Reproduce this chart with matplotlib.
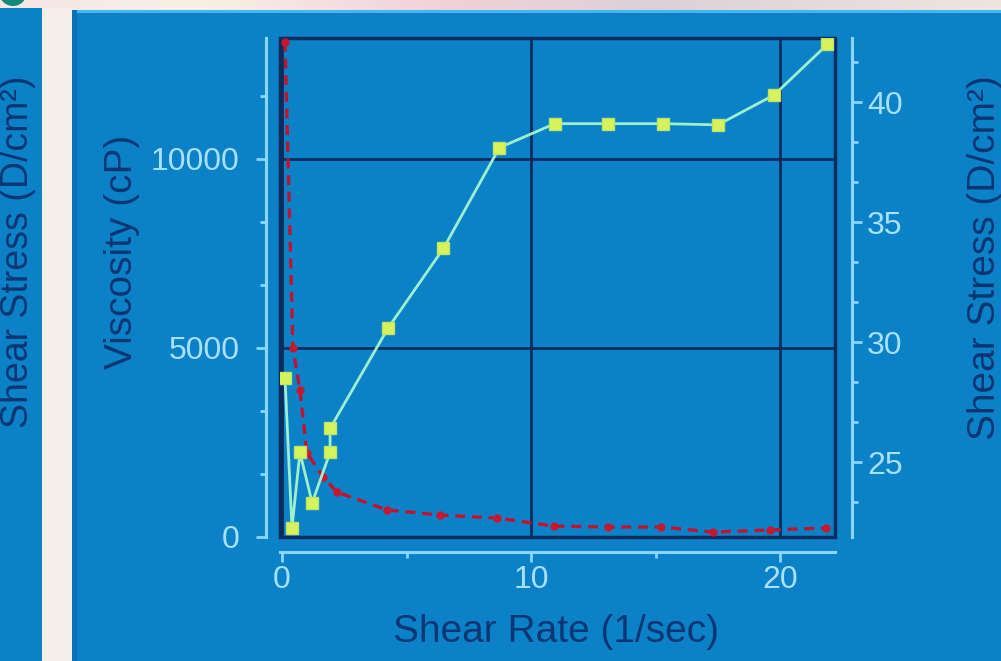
import numpy as np
import matplotlib
matplotlib.use('Agg')
import matplotlib.pyplot as plt
from matplotlib import font_manager
from matplotlib.patches import Rectangle, Circle
from matplotlib.ticker import MultipleLocator

# viscosity curve (red, left axis)
rate_visc = [0.12, 0.44, 0.72, 1.0, 1.65, 2.2, 4.23, 6.36, 8.65, 10.9, 13.08, 15.2, 17.3, 19.6, 21.85]
viscosity = [13100, 5000, 3890, 2220, 1590, 1190, 714, 580, 500, 290, 265, 265, 130, 185, 240]

# shear stress curve (green, right axis)
rate_stress = [0.12, 0.4, 0.72, 1.21, 1.93, 1.93, 4.27, 6.48, 8.73, 10.95, 13.08, 15.29, 17.5, 19.76, 21.89]
stress = [28.5, 22.25, 25.4, 23.3, 25.4, 26.4, 30.6, 33.9, 38.1, 39.1, 39.1, 39.1, 39.05, 40.3, 42.4]

W, H = 1001, 661
BLUE = '#0b82c8'
NAVY = '#0b2c5c'
AXBLUE = '#8ad6ff'
TICKTXT = '#a9e0fd'
LABEL = '#0d3672'

names = {f.name for f in font_manager.fontManager.ttflist}
if 'Liberation Sans Narrow' in names:
    tick_font, tick_size = 'Liberation Sans Narrow', 25
else:
    tick_font, tick_size = 'Liberation Sans', 23
plt.rcParams['font.family'] = ['Liberation Sans', 'DejaVu Sans']

fig = plt.figure(figsize=(W / 100, H / 100), dpi=100)

# slide background in pixel coordinates
bg = fig.add_axes([0, 0, 1, 1], zorder=-10)
bg.set_xlim(0, W)
bg.set_ylim(H, 0)
bg.axis('off')
xs = np.linspace(0, 1, 200)
stops = [0, 0.2, 0.45, 0.65, 1.0]
cols = np.array([[246, 230, 228], [248, 240, 228], [242, 208, 216], [220, 208, 216], [238, 230, 220]]) / 255
grad = np.stack([np.interp(xs, stops, cols[:, k]) for k in range(3)], axis=-1)[None, :, :]
bg.imshow(grad, extent=(0, W, H, 0), aspect='auto')
bg.add_patch(Rectangle((42, 8), 30, H, facecolor='#f6eee8', edgecolor='none'))
bg.add_patch(Rectangle((0, 8), 42, H, facecolor=BLUE, edgecolor='none'))
bg.add_patch(Rectangle((72, 10), W - 72, H, facecolor=BLUE, edgecolor='none'))
bg.add_patch(Rectangle((72, 10), W - 72, 3, facecolor='#46b6f0', edgecolor='none'))
bg.add_patch(Rectangle((72, 10), 5, H, facecolor='#0a72b4', edgecolor='none'))
bg.add_patch(Circle((13, -8), 14, facecolor='#138a78', edgecolor='none'))

bg.text(18, 252, 'Shear Stress (D/cm²)', rotation=90, ha='center', va='center',
        fontsize=27, color=LABEL)
bg.text(122, 252, 'Viscosity (cP)', rotation=90, ha='center', va='center',
        fontsize=28, color=LABEL)
bg.text(985, 258, 'Shear Stress (D/cm²)', rotation=90, ha='center', va='center',
        fontsize=28, color=LABEL)
bg.text(556, 632, 'Shear Rate (1/sec)', ha='center', va='center',
        fontsize=28, color=LABEL)

# plot frame: x 280..835, y 38..537 (pixels from top)
ax = fig.add_axes([280 / W, 1 - 537 / H, 555 / W, 499 / H])
ax.set_facecolor('none')
ax.set_xlim(-0.08, 22.2)
ax.set_ylim(0, 13200)
ax.xaxis.set_major_locator(MultipleLocator(10))
ax.xaxis.set_minor_locator(MultipleLocator(5))
ax.yaxis.set_major_locator(MultipleLocator(5000))
ax.yaxis.set_minor_locator(MultipleLocator(5000 / 3))
ax.grid(True, which='major', color=NAVY, lw=2)
ax.add_patch(Rectangle((0, 0), 1, 1, transform=ax.transAxes, fill=False,
                       edgecolor=NAVY, lw=2.5, clip_on=False, zorder=1.5))

for s in ['top', 'right']:
    ax.spines[s].set_visible(False)
ax.spines['left'].set_position(('outward', 10))
ax.spines['bottom'].set_position(('outward', 11))
for s in ['left', 'bottom']:
    ax.spines[s].set_color(AXBLUE)
    ax.spines[s].set_linewidth(2.2)

ax.tick_params(which='both', direction='out', color=AXBLUE, labelcolor=TICKTXT, width=2)
ax.tick_params(which='major', length=7, labelsize=tick_size)
ax.tick_params(which='minor', length=4)
ax.tick_params(axis='y', which='major', pad=12)
ax.tick_params(axis='x', which='major', pad=2)
for lab in ax.get_xticklabels() + ax.get_yticklabels():
    lab.set_fontfamily(tick_font)

ax.plot(rate_visc, viscosity, color='#c0142c', lw=2.4, ls=(0, (3, 2)),
        marker='o', ms=5, mfc='#c8182e', mec='#c8182e', zorder=3)

ax2 = ax.twinx()
ax2.set_ylim(21.875, 42.67)
ax2.yaxis.set_major_locator(MultipleLocator(5))
ax2.yaxis.set_minor_locator(MultipleLocator(5 / 3))
for s in ['top', 'left', 'bottom']:
    ax2.spines[s].set_visible(False)
ax2.spines['right'].set_position(('outward', 12))
ax2.spines['right'].set_color(AXBLUE)
ax2.spines['right'].set_linewidth(2.2)
ax2.tick_params(which='both', direction='out', color=AXBLUE, labelcolor=TICKTXT, width=2)
ax2.tick_params(which='major', length=7, labelsize=tick_size, pad=4)
ax2.tick_params(which='minor', length=4)
for lab in ax2.get_yticklabels():
    lab.set_fontfamily(tick_font)

ax2.plot(rate_stress, stress, color='#9ef0cc', lw=2, marker='s', ms=9,
         mfc='#d8f25c', mec='#bce466', zorder=4)

fig.savefig('out.png', dpi=100)
